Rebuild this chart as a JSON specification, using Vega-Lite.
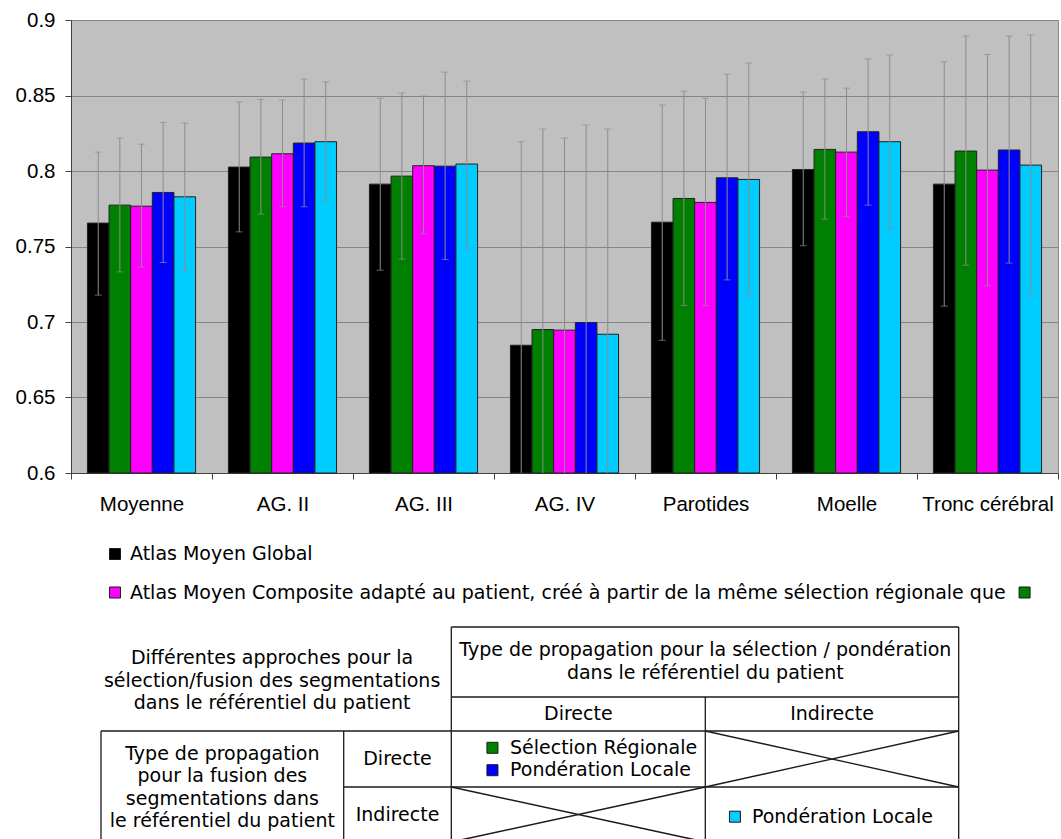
{
  "$schema": "https://vega.github.io/schema/vega-lite/v6.json",
  "padding": {"left": 14, "top": 9, "right": 0, "bottom": 0},
  "spacing": 58,
  "bounds": "flush",
  "config": {"view": {"stroke": null}},
  "resolve": {"scale": {"x": "independent", "y": "independent", "color": "independent"}},
  "datasets": {
    "bars": [
      {"cat": "Moyenne", "series": "Atlas Moyen Global", "value": 0.7655, "lo": 0.7178, "hi": 0.8125},
      {"cat": "Moyenne", "series": "Sélection Régionale", "value": 0.7774, "lo": 0.7332, "hi": 0.8218},
      {"cat": "Moyenne", "series": "Atlas Moyen Composite", "value": 0.7767, "lo": 0.7363, "hi": 0.8178},
      {"cat": "Moyenne", "series": "Pondération Locale (directe)", "value": 0.7858, "lo": 0.7394, "hi": 0.8322},
      {"cat": "Moyenne", "series": "Pondération Locale (indirecte)", "value": 0.7829, "lo": 0.7337, "hi": 0.8317},
      {"cat": "AG. II", "series": "Atlas Moyen Global", "value": 0.8026, "lo": 0.7597, "hi": 0.8457},
      {"cat": "AG. II", "series": "Sélection Régionale", "value": 0.8092, "lo": 0.7714, "hi": 0.8474},
      {"cat": "AG. II", "series": "Atlas Moyen Composite", "value": 0.8114, "lo": 0.7763, "hi": 0.8470},
      {"cat": "AG. II", "series": "Pondération Locale (directe)", "value": 0.8185, "lo": 0.7763, "hi": 0.8609},
      {"cat": "AG. II", "series": "Pondération Locale (indirecte)", "value": 0.8194, "lo": 0.7800, "hi": 0.8589},
      {"cat": "AG. III", "series": "Atlas Moyen Global", "value": 0.7913, "lo": 0.7343, "hi": 0.8481},
      {"cat": "AG. III", "series": "Sélection Régionale", "value": 0.7966, "lo": 0.7416, "hi": 0.8516},
      {"cat": "AG. III", "series": "Atlas Moyen Composite", "value": 0.8035, "lo": 0.7584, "hi": 0.8496},
      {"cat": "AG. III", "series": "Pondération Locale (directe)", "value": 0.8032, "lo": 0.7414, "hi": 0.8655},
      {"cat": "AG. III", "series": "Pondération Locale (indirecte)", "value": 0.8046, "lo": 0.7489, "hi": 0.8596},
      {"cat": "AG. IV", "series": "Atlas Moyen Global", "value": 0.6846, "lo": 0.5498, "hi": 0.8194},
      {"cat": "AG. IV", "series": "Sélection Régionale", "value": 0.6950, "lo": 0.5622, "hi": 0.8278},
      {"cat": "AG. IV", "series": "Atlas Moyen Composite", "value": 0.6946, "lo": 0.5674, "hi": 0.8218},
      {"cat": "AG. IV", "series": "Pondération Locale (directe)", "value": 0.6996, "lo": 0.5688, "hi": 0.8304},
      {"cat": "AG. IV", "series": "Pondération Locale (indirecte)", "value": 0.6919, "lo": 0.5560, "hi": 0.8278},
      {"cat": "Parotides", "series": "Atlas Moyen Global", "value": 0.7661, "lo": 0.6879, "hi": 0.8437},
      {"cat": "Parotides", "series": "Sélection Régionale", "value": 0.7818, "lo": 0.7109, "hi": 0.8529},
      {"cat": "Parotides", "series": "Atlas Moyen Composite", "value": 0.7792, "lo": 0.7109, "hi": 0.8481},
      {"cat": "Parotides", "series": "Pondération Locale (directe)", "value": 0.7955, "lo": 0.7279, "hi": 0.8640},
      {"cat": "Parotides", "series": "Pondération Locale (indirecte)", "value": 0.7944, "lo": 0.7182, "hi": 0.8715},
      {"cat": "Moelle", "series": "Atlas Moyen Global", "value": 0.8010, "lo": 0.7505, "hi": 0.8523},
      {"cat": "Moelle", "series": "Sélection Régionale", "value": 0.8143, "lo": 0.7681, "hi": 0.8609},
      {"cat": "Moelle", "series": "Atlas Moyen Composite", "value": 0.8125, "lo": 0.7697, "hi": 0.8549},
      {"cat": "Moelle", "series": "Pondération Locale (directe)", "value": 0.8260, "lo": 0.7774, "hi": 0.8742},
      {"cat": "Moelle", "series": "Pondération Locale (indirecte)", "value": 0.8194, "lo": 0.7617, "hi": 0.8768},
      {"cat": "Tronc cérébral", "series": "Atlas Moyen Global", "value": 0.7913, "lo": 0.7105, "hi": 0.8724},
      {"cat": "Tronc cérébral", "series": "Sélection Régionale", "value": 0.8132, "lo": 0.7376, "hi": 0.8894},
      {"cat": "Tronc cérébral", "series": "Atlas Moyen Composite", "value": 0.8006, "lo": 0.7239, "hi": 0.8772},
      {"cat": "Tronc cérébral", "series": "Pondération Locale (directe)", "value": 0.8139, "lo": 0.7390, "hi": 0.8894},
      {"cat": "Tronc cérébral", "series": "Pondération Locale (indirecte)", "value": 0.8039, "lo": 0.7178, "hi": 0.8901}
    ],
    "lines": [
      {"c1": 2, "r1": 0, "c2": 4, "r2": 0},
      {"c1": 2, "r1": 1, "c2": 4, "r2": 1},
      {"c1": 0, "r1": 2, "c2": 4, "r2": 2},
      {"c1": 1, "r1": 3, "c2": 4, "r2": 3},
      {"c1": 0, "r1": 4, "c2": 4, "r2": 4},
      {"c1": 0, "r1": 2, "c2": 0, "r2": 4},
      {"c1": 1, "r1": 2, "c2": 1, "r2": 4},
      {"c1": 2, "r1": 0, "c2": 2, "r2": 4},
      {"c1": 3, "r1": 1, "c2": 3, "r2": 4},
      {"c1": 4, "r1": 0, "c2": 4, "r2": 4},
      {"c1": 3, "r1": 2, "c2": 4, "r2": 3},
      {"c1": 4, "r1": 2, "c2": 3, "r2": 3},
      {"c1": 2, "r1": 3, "c2": 3, "r2": 4},
      {"c1": 3, "r1": 3, "c2": 2, "r2": 4}
    ],
    "cellText": [
      {"t": "Différentes approches pour la\nsélection/fusion des segmentations\ndans le référentiel du patient", "c": 0.705, "r": 0.443},
      {"t": "Type de propagation pour la sélection / pondération\ndans le référentiel du patient", "c": 3, "r": 0.33},
      {"t": "Directe", "c": 2.5, "r": 1.5},
      {"t": "Indirecte", "c": 3.5, "r": 1.5},
      {"t": "Type de propagation\npour la fusion des\nsegmentations dans\nle référentiel du patient", "c": 0.5, "r": 2.41},
      {"t": "Directe", "c": 1.5, "r": 2.5},
      {"t": "Indirecte", "c": 1.5, "r": 3.5}
    ],
    "keyText": [
      {"t": "Atlas Moyen Global", "c": 0.1195, "r": -2},
      {"t": "Atlas Moyen Composite adapté au patient, créé à partir de la même sélection régionale que", "c": 0.1195, "r": -1},
      {"t": "Sélection Régionale", "c": 2.231, "r": 2.3},
      {"t": "Pondération Locale", "c": 2.231, "r": 2.7},
      {"t": "Pondération Locale", "c": 3.184, "r": 3.54}
    ],
    "keys": [
      {"series": "Atlas Moyen Global", "c": 0.0577, "r": -2},
      {"series": "Atlas Moyen Composite", "c": 0.0577, "r": -1},
      {"series": "Sélection Régionale", "c": 4.26, "r": -1},
      {"series": "Sélection Régionale", "c": 2.162, "r": 2.3},
      {"series": "Pondération Locale (directe)", "c": 2.162, "r": 2.7},
      {"series": "Pondération Locale (indirecte)", "c": 3.117, "r": 3.54}
    ]
  },
  "vconcat": [
    {
      "width": 987,
      "height": 453,
      "view": {"fill": "#c0c0c0", "stroke": "#8c8c8c", "strokeWidth": 1},
      "data": {"name": "bars"},
      "encoding": {
        "x": {
          "field": "cat", "type": "nominal", "title": null,
          "sort": ["Moyenne", "AG. II", "AG. III", "AG. IV", "Parotides", "Moelle", "Tronc cérébral"],
          "scale": {"paddingInner": 0, "paddingOuter": 0},
          "axis": {"labelAngle": 0, "labelFont": "Liberation Sans", "labelFontSize": 20.5, "labelColor": "#000000", "labelPadding": 15, "tickBand": "extent", "tickSize": 6, "tickColor": "#404040", "domainColor": "#404040", "labelLimit": 0}
        },
        "xOffset": {
          "field": "series", "type": "nominal",
          "sort": ["Atlas Moyen Global", "Sélection Régionale", "Atlas Moyen Composite", "Pondération Locale (directe)", "Pondération Locale (indirecte)"],
          "scale": {"paddingInner": 0, "paddingOuter": 0.76}
        }
      },
      "layer": [
        {
          "mark": {"type": "bar", "stroke": "#202020", "strokeWidth": 1},
          "encoding": {
            "y": {
              "field": "value", "type": "quantitative", "title": null,
              "scale": {"domain": [0.6, 0.9], "zero": false, "nice": false},
              "axis": {"values": [0.6, 0.65, 0.7, 0.75, 0.8, 0.85, 0.9], "format": ".2~f", "labelFont": "Liberation Sans", "labelFontSize": 20.5, "labelColor": "#000000", "labelPadding": 10, "tickSize": 6, "tickColor": "#404040", "domainColor": "#404040", "gridColor": "#858585", "gridOpacity": 1}
            },
            "y2": {"datum": 0.6},
            "color": {
              "field": "series", "type": "nominal", "legend": null,
              "scale": {
                "domain": ["Atlas Moyen Global", "Sélection Régionale", "Atlas Moyen Composite", "Pondération Locale (directe)", "Pondération Locale (indirecte)"],
                "range": ["#000000", "#008000", "#ff00ff", "#0000ff", "#00ccff"]
              }
            }
          }
        },
        {
          "mark": {"type": "rule", "color": "#8c8c8c", "strokeWidth": 1, "clip": true},
          "encoding": {"y": {"field": "lo", "type": "quantitative", "title": null}, "y2": {"field": "hi"}}
        },
        {
          "mark": {"type": "tick", "size": 7, "thickness": 1, "color": "#8c8c8c", "clip": true},
          "encoding": {"y": {"field": "hi", "type": "quantitative", "title": null}}
        },
        {
          "mark": {"type": "tick", "size": 7, "thickness": 1, "color": "#8c8c8c", "clip": true},
          "encoding": {"y": {"field": "lo", "type": "quantitative", "title": null}}
        }
      ]
    },
    {
      "width": 987,
      "height": 311,
      "layer": [
        {
          "data": {"name": "lines"},
          "mark": {"type": "rule", "color": "#1a1a1a", "strokeWidth": 1.3},
          "encoding": {
            "x": {"field": "c1", "type": "quantitative", "axis": null, "scale": {"type": "linear", "domain": [0, 1, 2, 3, 4], "range": [30, 272.7, 380.3, 634.3, 887.7], "zero": false, "nice": false}},
            "y": {"field": "r1", "type": "quantitative", "axis": null, "scale": {"type": "linear", "domain": [-2, -1, 0, 1, 2, 3, 4], "range": [23, 61.5, 96, 166, 200, 256, 311], "zero": false, "nice": false}},
            "x2": {"field": "c2"},
            "y2": {"field": "r2"}
          }
        },
        {
          "data": {"name": "cellText"},
          "mark": {"type": "text", "font": "DejaVu Sans", "fontSize": 19, "lineBreak": "\n", "lineHeight": 22.5, "align": "center", "baseline": "middle", "color": "#000000"},
          "encoding": {
            "x": {"field": "c", "type": "quantitative", "axis": null},
            "y": {"field": "r", "type": "quantitative", "axis": null},
            "text": {"field": "t", "type": "nominal"}
          }
        },
        {
          "data": {"name": "keyText"},
          "mark": {"type": "text", "font": "DejaVu Sans", "fontSize": 19, "align": "left", "baseline": "middle", "color": "#000000"},
          "encoding": {
            "x": {"field": "c", "type": "quantitative", "axis": null},
            "y": {"field": "r", "type": "quantitative", "axis": null},
            "text": {"field": "t", "type": "nominal"}
          }
        },
        {
          "data": {"name": "keys"},
          "mark": {"type": "point", "shape": "square", "filled": true, "size": 121, "stroke": "#1a1a1a", "strokeWidth": 1, "opacity": 1},
          "encoding": {
            "x": {"field": "c", "type": "quantitative", "axis": null},
            "y": {"field": "r", "type": "quantitative", "axis": null},
            "color": {
              "field": "series", "type": "nominal", "legend": null,
              "scale": {
                "domain": ["Atlas Moyen Global", "Sélection Régionale", "Atlas Moyen Composite", "Pondération Locale (directe)", "Pondération Locale (indirecte)"],
                "range": ["#000000", "#008000", "#ff00ff", "#0000ff", "#00ccff"]
              }
            }
          }
        }
      ]
    }
  ]
}
